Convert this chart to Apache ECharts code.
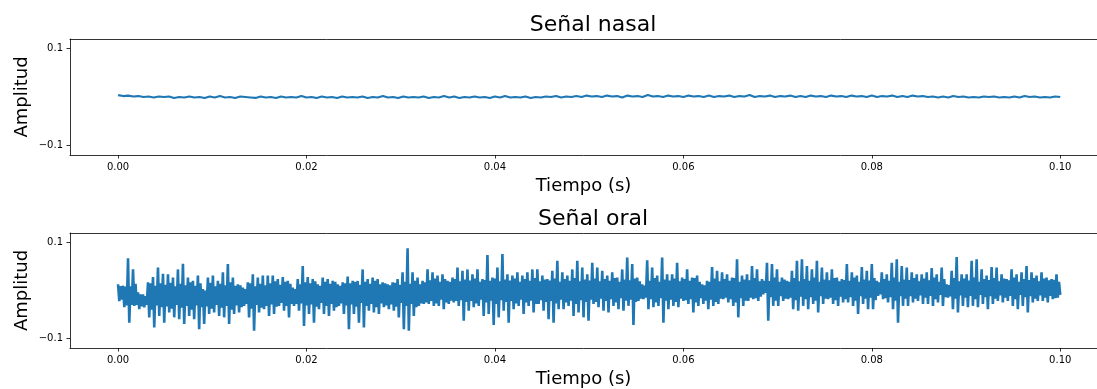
<!DOCTYPE html>
<html><head><meta charset="utf-8">
<script src="https://cdn.jsdelivr.net/npm/echarts@6/dist/echarts.min.js"></script>
<style>html,body{margin:0;padding:0;background:#fff}#c{width:1097px;height:389px}</style>
</head><body><div id="c"></div>
<script>
const titles = ['Señal nasal', 'Señal oral'];
const xLabel = 'Tiempo (s)';
const yLabel = 'Amplitud';
const xTicks = [0, 0.02, 0.04, 0.06, 0.08, 0.10];
const yTicks = [-0.1, 0.1];
const duration = 0.1; // seconds covered by each recording
const unit = 0.001;   // values below are in thousandths of amplitude

// Nasal signal (thousandths)
const nasalMilli = [
4,2,3,1,2,0,1,-1,1,0,
1,-2,0,-1,1,-1,0,-2,1,-1,
2,-1,0,-2,1,0,-1,-2,1,-1,
0,-2,1,-1,0,-1,2,-1,0,-2,
1,-1,0,-2,1,-1,0,-1,1,-2,
0,-1,2,-1,0,-2,1,-1,0,-1,
1,-2,0,-1,2,-1,1,-2,0,-1,
1,-1,0,-2,1,-1,2,-1,0,-1,
1,-2,0,-1,1,0,2,-1,1,0,
2,0,3,1,2,0,3,1,2,-1,
3,1,2,0,4,1,2,0,3,1,
2,0,3,1,2,0,3,0,2,1,
3,0,2,1,4,0,2,1,3,0,
2,1,3,0,2,0,3,1,2,0,
3,1,2,0,3,1,2,0,3,0,
2,1,3,0,2,0,3,1,
2,0,1,-1,
1,-1,2,0,1,-1,0,-1,1,0,
1,-1,0,-1,1,-1,2,0,1,-1,
0,-1,1,0
];

// Oral signal (thousandths; peak, trough, then inner swing)
const oralMilli = [
13,-22,9,-19, 10,-35,8,-31, 67,-67,9,-30, 44,-32,14,-30, -4,-39,-8,-33,
-8,-35,-12,-30, 17,-56,15,-40, 28,-77,10,-31, 48,-53,15,-35, 35,-67,12,-33,
34,-46,16,-38, 27,-56,9,-30, 44,-60,14,-36, 56,-70,11,-32, 27,-53,17,-40,
20,-60,10,-31, 31,-81,15,-35, 3,-70,0,-33, 27,-49,16,-38, 31,-46,9,-30,
20,-53,14,-36, 38,-56,11,-32, 55,-70,17,-40, 27,-49,10,-31, 13,-46,11,-35,
6,-32,3,-28, 17,-56,15,-38, 34,-84,9,-30, 27,-46,14,-36, 31,-39,11,-32,
31,-53,15,-29, 31,-49,19,-34, 24,-32,12,-26, 28,-42,18,-32, 20,-56,14,-28,
6,-32,3,-28, 24,-42,13,-27, 51,-74,17,-31, 28,-49,15,-29, 24,-67,19,-34,
13,-39,10,-26, 27,-49,18,-32, 24,-53,14,-28, 20,-42,18,-35, 13,-32,10,-27,
17,-49,15,-31, 29,-81,15,-29, 20,-49,18,-34, 20,-67,12,-26, 44,-77,18,-32,
24,-42,14,-28, 27,-46,20,-35, 24,-49,13,-27, 17,-35,15,-31, 13,-39,11,-29,
17,-42,16,-34, 24,-56,12,-26, 38,-81,18,-32, 88,-84,14,-28, 38,-53,20,-35,
27,-32,13,-27, 20,-28,17,-25, 44,-28,21,-22, 38,-32,25,-27, 31,-32,18,-19,
34,-39,24,-25, 20,-28,18,-21, 27,-25,24,-22, 48,-32,19,-20, 41,-63,23,-24,
44,-42,21,-22, 34,-35,25,-27, 44,-32,18,-19, 24,-53,22,-25, 74,-49,20,-21,
27,-72,25,-28, 48,-56,19,-20, 76,-42,23,-24, 34,-67,21,-22, 31,-39,25,-27,
38,-32,18,-19, 31,-49,24,-25, 38,-32,20,-21, 44,-46,26,-28, 44,-28,19,-20,
31,-42,23,-24, 24,-60,21,-22, 41,-67,25,-27, 62,-39,18,-19, 38,-39,24,-25,
31,-32,20,-21, 44,-53,26,-28, 62,-46,19,-20, 48,-56,23,-24, 34,-63,21,-19,
58,-28,25,-24, 48,-35,19,-17, 41,-42,24,-22, 31,-46,20,-18, 38,-32,26,-25,
27,-39,18,-16, 44,-42,23,-21, 69,-32,21,-19, 55,-72,25,-24, 27,-22,19,-17,
13,-18,10,-15, 63,-39,20,-18, 48,-35,26,-25, 31,-32,18,-16, 69,-67,23,-21,
34,-39,21,-19, 34,-32,25,-24, 58,-35,19,-17, 27,-22,24,-20, 44,-28,20,-18,
27,-46,26,-25, 31,-32,18,-16, 13,-28,11,-21, 20,-39,18,-19, 49,-32,25,-24,
41,-28,19,-17, 38,-18,24,-15, 34,-25,20,-18, 27,-32,26,-25, 65,-56,18,-16,
31,-32,23,-21, 34,-22,21,-15, 51,-18,26,-16, 44,-22,19,-13, 24,-8,20,-5,
58,-63,20,-14, 55,-32,27,-21, 44,-32,18,-12, 27,-22,23,-17, 20,-18,18,-15,
41,-39,26,-20, 62,-42,19,-13, 65,-32,24,-18, 51,-39,20,-14, 44,-28,27,-21,
62,-46,18,-12, 48,-28,23,-17, 38,-18,21,-15, 44,-28,26,-20, 27,-32,19,-13,
24,-25,22,-18, 55,-25,20,-14, 38,-32,27,-21, 31,-49,18,-12, 49,-28,23,-17,
41,-39,21,-15, 55,-39,26,-20, 20,-11,17,-8, 38,-18,24,-16, 34,-25,20,-14,
58,-39,27,-21, 65,-67,18,-12, 51,-32,23,-17, 48,-32,22,-12, 38,-25,26,-17,
34,-22,19,-10, 34,-28,25,-15, 38,-28,21,-11, 47,-32,27,-18, 34,-25,18,-9,
48,-32,24,-14, 13,-15,11,-12, 41,-39,26,-17, 70,-46,19,-10, 34,-32,25,-15,
34,-35,21,-11, 62,-32,27,-18, 65,-35,18,-9, 44,-28,24,-14, 31,-39,22,-12,
49,-28,26,-17, 48,-22,19,-10, 34,-25,25,-15, 24,-22,21,-11, 44,-32,27,-18,
34,-39,18,-9, 38,-32,24,-14, 51,-46,22,-12, 38,-25,26,-17, 31,-22,19,-10,
38,-22,25,-15, 27,-25,21,-11, 24,-18,22,-16, 34,-15,18,-9
];

function toSeries(arr) {
  const n = arr.length;
  return arr.map((v, i) => [i * duration / (n - 1), v * unit]);
}

const FONT = 'DejaVu Sans';
// The original figure is wider than the window: the visible part of the x range
const X_MIN = -0.0051, X_MAX = 0.1039;
const grids = [
  {left: 70, top: 39, right: 0, height: 116},
  {left: 70, top: 233, right: 0, height: 116}
];
const spine = {show: true, onZero: false, lineStyle: {color: '#000', width: 0.8}};

function xAxisFor(idx) {
  return {
    type: 'value', gridIndex: idx, min: X_MIN, max: X_MAX, position: 'bottom',
    axisLine: spine,
    axisTick: {show: true, length: 3.5, customValues: xTicks, lineStyle: {color: '#000', width: 0.8}},
    axisLabel: {customValues: xTicks, formatter: v => v.toFixed(2), fontSize: 10, color: '#000', fontFamily: FONT, margin: 7},
    splitLine: {show: false},
    name: xLabel, nameLocation: 'middle', nameGap: 22, nameMoveOverlap: false,
    nameTextStyle: {fontSize: 18, color: '#000', fontFamily: FONT}
  };
}
function topSpineFor(idx) {
  return {
    type: 'value', gridIndex: idx, min: X_MIN, max: X_MAX, position: 'top',
    axisLine: spine, axisTick: {show: false}, axisLabel: {show: false}, splitLine: {show: false}
  };
}
function yAxisFor(idx) {
  return {
    type: 'value', gridIndex: idx, min: -0.12, max: 0.12,
    axisLine: spine,
    axisTick: {show: true, length: 3.5, customValues: yTicks, lineStyle: {color: '#000', width: 0.8}},
    axisLabel: {customValues: yTicks, formatter: v => (v < 0 ? '\u2212' : '') + Math.abs(v).toFixed(1), fontSize: 10, color: '#000', fontFamily: FONT, margin: 7},
    splitLine: {show: false},
    name: yLabel, nameLocation: 'middle', nameGap: 39, nameMoveOverlap: false,
    nameTextStyle: {fontSize: 18, color: '#000', fontFamily: FONT}
  };
}

const chart = echarts.init(document.getElementById('c'), null, {renderer: 'canvas'});
chart.setOption({
  animation: false,
  backgroundColor: '#fff',
  title: titles.map((t, i) => ({
    text: t, left: 588, top: i === 0 ? 9 : 203, textAlign: 'center',
    textStyle: {fontSize: 22, fontWeight: 'normal', color: '#000', fontFamily: FONT}
  })),
  grid: grids.map(g => Object.assign({show: false}, g)),
  xAxis: [xAxisFor(0), xAxisFor(1), topSpineFor(0), topSpineFor(1)],
  yAxis: [yAxisFor(0), yAxisFor(1)],
  series: [nasalMilli, oralMilli].map((arr, i) => ({
    type: 'line', xAxisIndex: i, yAxisIndex: i, data: toSeries(arr),
    showSymbol: false, symbol: 'none', sampling: null,
    lineStyle: {color: '#1f77b4', width: i === 0 ? 2.2 : 2.6}
  }))
});
</script>
</body></html>
